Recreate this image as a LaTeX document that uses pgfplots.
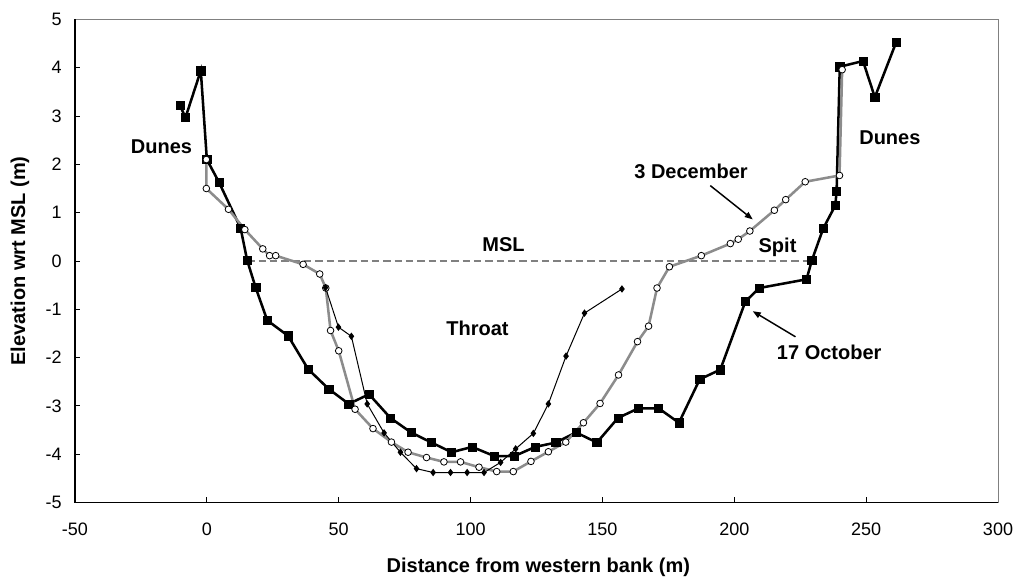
\documentclass[border=0pt]{standalone}
\usepackage{fontspec}
\setmainfont{Liberation Sans}
\usepackage{pgfplots}
\pgfplotsset{compat=1.18}
\usetikzlibrary{arrows.meta}
\definecolor{decgray}{RGB}{140,140,140}
\definecolor{mslgray}{RGB}{128,128,128}
\begin{document}
\begin{tikzpicture}
\begin{axis}[
  scale only axis,
  width=692.25pt, height=362.25pt,
  xmin=-50, xmax=300, ymin=-5, ymax=5,
  xtick={-50,0,50,100,150,200,250,300},
  ytick={-5,-4,-3,-2,-1,0,1,2,3,4,5},
  xtick pos=left, ytick pos=left,
  tick align=inside,
  major tick length=3.75pt,
  tick style={black, line width=0.6pt},
  axis line style={draw=mslgray, line width=0.6pt},
  /pgf/number format/assume math mode=true,
  tick label style={font=\fontsize{13.5}{16}\selectfont},
  xticklabel style={yshift=-12pt},
  yticklabel style={xshift=-6.5pt},
  xlabel={\textbf{Distance from western bank (m)}},
  ylabel={\textbf{Elevation wrt MSL (m)}},
  label style={font=\fontsize{15}{18}\selectfont},
  xlabel style={at={(axis description cs:0.502,-0.146)}, anchor=base},
  ylabel style={at={(axis description cs:-0.0596,0.5)}, anchor=center},
  clip=false,
]
% MSL
\addplot[mslgray, line width=1.5pt, dash pattern=on 5.5pt off 3pt] coordinates {(15.3,0) (229.4,0)};
% 17 October
\addplot[black, line width=1.9pt, mark=square*, mark size=3.1pt, mark options={solid, fill=black, line width=0.4pt}] coordinates {
(-10.2,3.22) (-8.1,2.97) (-2.3,3.94) (0,2.10) (4.6,1.63) (12.8,0.68) (15.3,0.01) (18.5,-0.55)
(22.9,-1.23) (30.8,-1.55) (38.4,-2.24) (46.2,-2.65) (53.8,-2.96) (61.5,-2.76) (69.6,-3.25)
(77.4,-3.55) (85.2,-3.76) (92.8,-3.96) (100.6,-3.85) (109.0,-4.04) (116.6,-4.04) (124.5,-3.85)
(132.3,-3.76) (140.0,-3.55) (147.9,-3.76) (155.9,-3.25) (163.7,-3.05) (171.3,-3.05) (179.0,-3.35)
(186.9,-2.45) (194.7,-2.25) (204.2,-0.84) (209.5,-0.56) (227.4,-0.38) (229.4,0.01) (233.7,0.67)
(238.3,1.15) (238.8,1.44) (240.0,4.02) (248.8,4.14) (253.3,3.39) (261.4,4.53)};
% 3 December
\addplot[decgray, line width=1.9pt, mark=*, mark size=2.5pt, mark options={solid, fill=white, draw=black, line width=0.6pt}] coordinates {
(-0.2,2.10) (-0.2,1.50) (8.2,1.07) (14.4,0.65) (21.2,0.25) (23.8,0.11) (26.1,0.11) (36.5,-0.07)
(42.8,-0.27) (45.1,-0.56) (46.9,-1.44) (50.0,-1.86) (56.2,-3.07) (63.0,-3.47) (70.0,-3.75)
(76.3,-3.96) (83.3,-4.07) (89.9,-4.16) (96.2,-4.16) (103.2,-4.27) (109.9,-4.36) (116.2,-4.36)
(122.9,-4.15) (129.5,-3.95) (136.1,-3.75) (142.8,-3.35) (149.1,-2.95) (156.1,-2.36) (163.3,-1.67)
(167.5,-1.35) (170.7,-0.56) (175.4,-0.12) (187.5,0.11) (198.5,0.36) (201.5,0.45) (205.9,0.62)
(215.2,1.05) (219.5,1.27) (226.9,1.64) (239.9,1.77) (240.9,3.96)};
% third survey (thin, diamonds)
\addplot[black, line width=0.75pt, mark=diamond*, mark size=2.2pt, mark options={solid, fill=black}] coordinates {
(45.0,-0.55) (49.9,-1.37) (54.8,-1.56) (60.8,-2.96) (67.2,-3.56) (73.4,-3.96) (79.5,-4.30)
(85.8,-4.38) (92.4,-4.38) (98.7,-4.38) (105.1,-4.38) (111.4,-4.17) (117.1,-3.89) (123.8,-3.57)
(129.5,-2.96) (136.2,-1.97) (143.2,-1.08) (157.4,-0.58)};
% axis lines left and bottom
\draw[black, line width=1.1pt] (rel axis cs:0,1) -- (rel axis cs:0,0) -- (rel axis cs:1,0);
% annotations
\begin{scope}[every node/.style={font=\fontsize{15}{18}\selectfont\bfseries, inner sep=0pt}]
\node at (axis cs:-17.2,2.37) {Dunes};
\node at (axis cs:259,2.56) {Dunes};
\node at (axis cs:112.5,0.34) {MSL};
\node at (axis cs:102.6,-1.39) {Throat};
\node at (axis cs:216.4,0.29) {Spit};
\node at (axis cs:183.6,1.86) {3 December};
\node at (axis cs:236.0,-1.89) {17 October};
\end{scope}
\draw[black, line width=1.1pt, -{Triangle[length=6pt,width=4.5pt]}] (axis cs:190.9,1.56) -- (axis cs:207.0,0.86);
\draw[black, line width=1.1pt, -{Triangle[length=6pt,width=4.5pt]}] (axis cs:223.2,-1.57) -- (axis cs:207.0,-1.04);
\end{axis}
\pgfresetboundingbox
\path ([xshift=-56.25pt,yshift=-57.4pt]current axis.south west) rectangle ([xshift=15.75pt,yshift=14.6pt]current axis.north east);
\end{tikzpicture}
\end{document}
